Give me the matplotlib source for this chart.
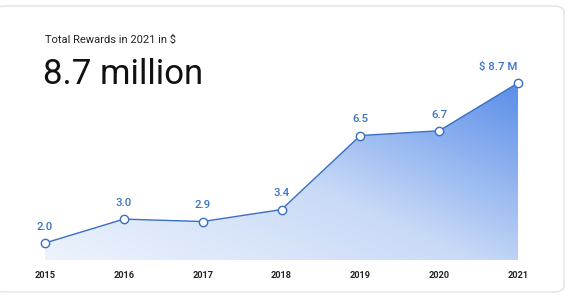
import numpy as np
import matplotlib
matplotlib.use("Agg")
import matplotlib.pyplot as plt
from matplotlib.patches import FancyBboxPatch, Polygon
from matplotlib.colors import LinearSegmentedColormap

years = [2015, 2016, 2017, 2018, 2019, 2020, 2021]
rewards = [2.0, 3.0, 2.9, 3.4, 6.5, 6.7, 8.7]
point_labels = ["2.0", "3.0", "2.9", "3.4", "6.5", "6.7", "$ 8.7 M"]

LINE_BLUE = "#3a6fc2"
TEXT_BLUE = "#3b73c4"
FONT = "Roboto"

W, H = 570, 296
fig = plt.figure(figsize=(W / 100, H / 100), dpi=100)
fig.patch.set_facecolor("white")

# card outline, kept behind the axes
card = FancyBboxPatch((-6 / W, 4 / H), W / W, (H - 10) / H,
                      boxstyle="round,pad=0,rounding_size=0.02",
                      transform=fig.transFigure, facecolor="white",
                      edgecolor="#e3e3e3", linewidth=1.0, zorder=-10)
fig.patches.append(card)

# axes placed in pixel terms: x 2015 -> 45px, 2021 -> 518px; y bottom 260px, top 60px
px_per_unit = (243 - 83) / (8.7 - 2.0)
zero_px = 243 + 2.0 * px_per_unit
y_bot = (zero_px - 260) / px_per_unit
y_top = (zero_px - 60) / px_per_unit
ax = fig.add_axes([45 / W, 1 - 260 / H, (518 - 45) / W, 200 / H])
ax.axis("off")
ax.patch.set_visible(False)

# gradient fill under the line
cmap = LinearSegmentedColormap.from_list(
    "grad", ["#edf3fd", "#c9daf7", "#5a8ee9"])
gx, gy = np.meshgrid(np.linspace(0, 1, 200), np.linspace(0, 1, 200))
grad = 0.55 * gx + 0.45 * gy
img = ax.imshow(grad, cmap=cmap, origin="lower", aspect="auto",
                extent=[years[0], years[-1], y_bot, max(rewards)],
                vmin=0, vmax=1, zorder=1)
verts = [(years[0], y_bot)] + list(zip(years, rewards)) + [(years[-1], y_bot)]
poly = Polygon(verts, closed=True, facecolor="none", edgecolor="none",
               transform=ax.transData)
ax.add_patch(poly)
img.set_clip_path(poly)
ax.set_xlim(years[0], years[-1])
ax.set_ylim(y_bot, y_top)

ax.plot(years, rewards, color=LINE_BLUE, linewidth=1.0, zorder=3,
        marker="o", markersize=6, markerfacecolor="white",
        markeredgecolor=LINE_BLUE, markeredgewidth=1.0, clip_on=False)

for i, (x, y, lab) in enumerate(zip(years, rewards, point_labels)):
    dx = -14 if i == len(years) - 1 else 0
    ax.annotate(lab, (x, y), xytext=(dx, 8), textcoords="offset points",
                ha="center", va="bottom", color=TEXT_BLUE, fontsize=8.2,
                fontfamily=FONT, fontweight="medium")

for x in years:
    ax.annotate(str(x), (x, y_bot), xytext=(0, -8), textcoords="offset points",
                ha="center", va="top", fontsize=6.6, fontweight="bold",
                color="#222222", fontfamily=FONT, annotation_clip=False)

fig.text(45 / W, 1 - 40 / H, "Total Rewards in 2021 in $", ha="left",
         va="center", fontsize=8, color="#222222", fontfamily=FONT)
fig.text(43 / W, 1 - 74 / H, "8.7 million", ha="left", va="center",
         fontsize=25, color="#111111", fontfamily=FONT)

fig.savefig("out.png", dpi=100, facecolor="white")
